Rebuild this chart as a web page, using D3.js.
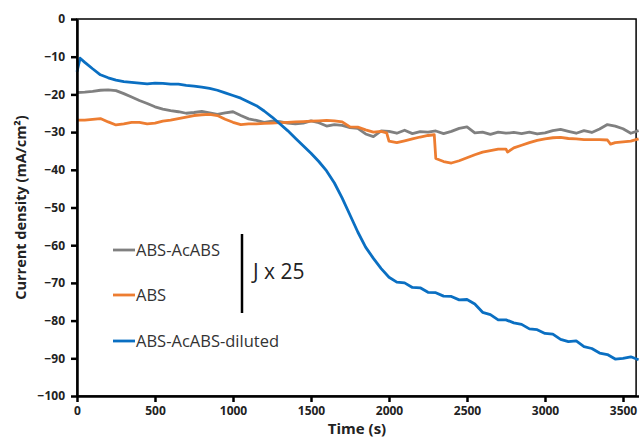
<!DOCTYPE html>
<html>
<head>
<meta charset="utf-8">
<script src="https://cdn.jsdelivr.net/npm/d3@7"></script>
<style>
  body { margin: 0; background: #fff; }
  text { font-family: "Open Sans", "Liberation Sans", sans-serif; }
  .tick text { font-size: 12px; font-weight: bold; fill: #222; }
</style>
</head>
<body>
<div id="chart"></div>
<script>
// Data (time in s, current density in mA/cm2)
const blueTime = [0, 20, 50, 100, 150, 200, 250, 300, 350, 400, 450, 500, 550, 600, 650, 700, 750, 800, 850, 900, 950, 1000,
  1050, 1100, 1150, 1200, 1250, 1300, 1350, 1400, 1450, 1500, 1550, 1600, 1650, 1700, 1750, 1800, 1850, 1900, 1950, 2000,
  2050, 2100, 2150, 2200, 2250, 2300, 2350, 2400, 2450, 2500, 2550, 2600, 2650, 2700, 2750, 2800, 2850, 2900, 2950, 3000,
  3050, 3100, 3150, 3200, 3250, 3300, 3350, 3400, 3450, 3500, 3550, 3600];
const blueValues = [-14, -10.4, -11.5, -13.2, -14.8, -15.6, -16.2, -16.6, -16.8, -17.0, -17.2, -17.0, -17.1, -17.3, -17.3, -17.6, -17.8, -18.1, -18.4, -18.9, -19.6, -20.3,
  -21.0, -22.0, -23.0, -24.4, -26.0, -27.8, -29.6, -31.6, -33.6, -35.6, -37.8, -40.3, -43.5, -47.5, -52.0, -56.5, -60.5, -63.5, -66.2, -68.5,
  -69.8, -70.0, -71.2, -71.3, -72.5, -72.6, -73.5, -73.6, -74.5, -74.4, -75.6, -77.8, -78.4, -79.8, -79.8, -80.6, -81.0, -82.2, -82.4, -83.4,
  -83.6, -85.0, -85.6, -85.4, -86.9, -87.4, -88.6, -89.0, -90.2, -90.0, -89.6, -90.4];

const grayTime = [0, 50, 100, 150, 200, 250, 300, 350, 400, 450, 500, 550, 600, 650, 700, 750, 800, 850, 900, 950, 1000,
  1050, 1100, 1150, 1200, 1250, 1300, 1350, 1400, 1450, 1500, 1550, 1600, 1650, 1700, 1750, 1800, 1850, 1900, 1950, 2000,
  2050, 2100, 2150, 2200, 2250, 2300, 2350, 2400, 2450, 2500, 2550, 2600, 2650, 2700, 2750, 2800, 2850, 2900, 2950, 3000,
  3050, 3100, 3150, 3200, 3250, 3300, 3350, 3400, 3450, 3500, 3550, 3600];
const grayValues = [-19.5, -19.4, -19.2, -18.9, -18.8, -19.0, -19.8, -20.7, -21.6, -22.4, -23.3, -23.9, -24.3, -24.6, -25.0, -24.8, -24.5, -24.9, -25.3, -24.9, -24.6,
  -25.6, -26.5, -26.9, -27.4, -27.1, -27.2, -27.6, -27.8, -27.6, -27.0, -27.5, -28.4, -28.0, -28.2, -28.8, -29.0, -30.5, -31.2, -29.7, -29.8,
  -30.3, -29.5, -30.4, -29.9, -30.0, -29.7, -30.4, -29.8, -29.0, -28.6, -30.2, -30.0, -30.6, -30.0, -30.3, -30.1, -30.4, -30.0, -30.5, -30.2,
  -29.6, -29.3, -29.8, -30.3, -29.6, -30.1, -29.2, -28.0, -28.4, -29.1, -30.3, -29.6];

const orangeTime = [0, 50, 100, 150, 200, 250, 300, 350, 400, 450, 500, 550, 600, 650, 700, 750, 800, 850, 900, 950, 1000,
  1050, 1100, 1150, 1200, 1250, 1300, 1350, 1400, 1450, 1500, 1550, 1600, 1650, 1700, 1750, 1800, 1850, 1900, 1950, 1985, 2000,
  2050, 2100, 2150, 2200, 2250, 2290, 2300, 2350, 2400, 2450, 2500, 2550, 2600, 2650, 2700, 2750, 2760, 2800, 2850, 2900, 2950, 3000,
  3050, 3100, 3150, 3200, 3250, 3300, 3350, 3400, 3420, 3450, 3500, 3550, 3600];
const orangeValues = [-26.8, -26.8, -26.6, -26.4, -27.3, -28.1, -27.8, -27.4, -27.4, -27.8, -27.6, -27.1, -26.8, -26.4, -26.0, -25.6, -25.4, -25.3, -25.6, -26.6, -27.4,
  -28.0, -27.8, -27.8, -27.7, -27.6, -27.5, -27.4, -27.3, -27.2, -27.1, -27.0, -26.9, -27.0, -27.3, -28.6, -28.7, -29.4, -30.0, -29.8, -30.2, -32.4,
  -32.8, -32.3, -31.8, -31.3, -30.9, -30.7, -37.0, -37.8, -38.2, -37.6, -36.8, -36.0, -35.3, -34.9, -34.5, -34.5, -35.3, -34.2, -33.5, -32.8, -32.2, -31.8,
  -31.5, -31.4, -31.7, -31.8, -32.0, -32.0, -32.0, -32.1, -33.2, -32.8, -32.6, -32.4, -31.8];

const seriesNames = ["ABS-AcABS", "ABS", "ABS-AcABS-diluted"];
const seriesColors = ["#808080", "#ed7d31", "#0a6fc2"];
const xTicks = [0, 500, 1000, 1500, 2000, 2500, 3000, 3500];
const yTicks = [0, -10, -20, -30, -40, -50, -60, -70, -80, -90, -100];

// Chart size
const svgWidth = 639;
const svgHeight = 437;
const margin = { top: 19, right: 0, bottom: 41, left: 77 };
const width = 561.6;
const height = svgHeight - margin.top - margin.bottom;

const svg = d3.select("#chart")
  .append("svg")
  .attr("width", svgWidth)
  .attr("height", svgHeight);

const chartGroup = svg.append("g")
  .attr("transform", `translate(${margin.left}, ${margin.top})`);

const xScale = d3.scaleLinear().domain([0, 3600]).range([0, width]);
const yScale = d3.scaleLinear().domain([-100, 0]).range([height, 0]);

// plot border (top / right)
chartGroup.append("rect")
  .attr("x", 0).attr("y", 0)
  .attr("width", width - 2.5).attr("height", height)
  .attr("fill", "none")
  .attr("stroke", "#000")
  .attr("stroke-width", 1.5);

// series lines
const series = [
  { t: grayTime, v: grayValues },
  { t: orangeTime, v: orangeValues },
  { t: blueTime, v: blueValues }
];
const line = d3.line().x(d => xScale(d[0])).y(d => yScale(d[1]));

series.forEach((s, i) => {
  const pts = s.t.map((t, j) => [t, s.v[j]]);
  chartGroup.append("path")
    .datum(pts)
    .attr("d", line)
    .attr("fill", "none")
    .attr("stroke", seriesColors[i])
    .attr("stroke-width", 2.8)
    .attr("stroke-linejoin", "round");
});

// axes
const bottomAxis = d3.axisBottom(xScale).tickValues(xTicks).tickFormat(d3.format("d"))
  .tickSize(6).tickSizeOuter(0).tickPadding(4);
const xAxisG = chartGroup.append("g")
  .attr("transform", `translate(0, ${height})`)
  .call(bottomAxis);

const leftAxis = d3.axisLeft(yScale).tickValues(yTicks).tickSize(6).tickSizeOuter(0).tickPadding(5);
const yAxisG = chartGroup.append("g").call(leftAxis);

[xAxisG, yAxisG].forEach(g => {
  g.select(".domain").attr("stroke", "#000").attr("stroke-width", 2.5);
  g.selectAll(".tick line").attr("stroke", "#000").attr("stroke-width", 2.5);
});
yAxisG.selectAll(".tick text").attr("dx", "-1px");

// axis titles
svg.append("text")
  .attr("transform", `translate(26, ${margin.top + height / 2}) rotate(-90)`)
  .attr("text-anchor", "middle")
  .style("font-size", "14.5px")
  .style("font-weight", "bold")
  .attr("fill", "#222")
  .text("Current density (mA/cm²)");

svg.append("text")
  .attr("x", 357)
  .attr("y", 434)
  .attr("text-anchor", "middle")
  .style("font-size", "15px")
  .style("font-weight", "bold")
  .attr("fill", "#222")
  .text("Time (s)");

// legend
const legendY = [250, 295, 341];
seriesNames.forEach((name, i) => {
  chartGroup.append("line")
    .attr("x1", 113 - margin.left).attr("x2", 135 - margin.left)
    .attr("y1", legendY[i] - margin.top).attr("y2", legendY[i] - margin.top)
    .attr("stroke", seriesColors[i])
    .attr("stroke-width", 2.8);
  chartGroup.append("text")
    .attr("x", 136 - margin.left)
    .attr("y", legendY[i] - margin.top)
    .attr("dy", "0.35em")
    .style("font-size", "16.5px")
    .attr("fill", "#333")
    .text(name);
});

chartGroup.append("line")
  .attr("x1", 242 - margin.left).attr("x2", 242 - margin.left)
  .attr("y1", 234 - margin.top).attr("y2", 313 - margin.top)
  .attr("stroke", "#000")
  .attr("stroke-width", 2.5);

chartGroup.append("text")
  .attr("x", 253 - margin.left)
  .attr("y", 272 - margin.top)
  .attr("dy", "0.35em")
  .style("font-size", "21px")
  .attr("fill", "#222")
  .text("J x 25");
</script>
</body>
</html>
